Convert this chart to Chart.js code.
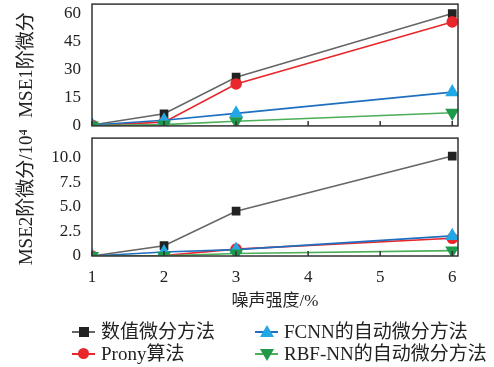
<!DOCTYPE html>
<html>
<head>
<meta charset="utf-8">
<script src="https://cdn.jsdelivr.net/npm/chart.js@4.4.1/dist/chart.umd.min.js"></script>
<style>
  body { margin: 0; background: #fff; width: 494px; height: 367px; overflow: hidden; position: relative; }
  .box { position: absolute; left: 0; width: 494px; }
  #top { top: -4px; height: 138px; }
  #bot { top: 130px; height: 186px; }
  .legend { position: absolute; font-family: "Liberation Serif", "Noto Sans CJK SC", serif; font-size: 19px; color: #222; white-space: nowrap; }
  .item { position: absolute; height: 22px; line-height: 22px; }
  .sw { position: absolute; left: 0; top: 10px; width: 23px; height: 2px; }
  .mk { position: absolute; }
  .lab { position: absolute; left: 29px; top: 0; }
</style>
</head>
<body>
<div class="box" id="top"><canvas id="c1"></canvas></div>
<div class="box" id="bot"><canvas id="c2"></canvas></div>
<div class="legend">
  <div class="item" style="left:72px;top:321px"><div class="sw" style="background:#666"></div><div class="mk" style="left:7px;top:6px;width:10px;height:10px;background:#222"></div><span class="lab">数值微分方法</span></div>
  <div class="item" style="left:72px;top:343px"><div class="sw" style="background:#e8262b"></div><div class="mk" style="left:6px;top:5px;width:11px;height:11px;border-radius:50%;background:#e8262b"></div><span class="lab">Prony算法</span></div>
  <div class="item" style="left:255px;top:321px"><div class="sw" style="background:#1f6fc0"></div><div class="mk" style="left:5px;top:4px;width:0;height:0;border-left:7px solid transparent;border-right:7px solid transparent;border-bottom:12px solid #22a7e6"></div><span class="lab">FCNN的自动微分方法</span></div>
  <div class="item" style="left:255px;top:343px"><div class="sw" style="background:#4cae58"></div><div class="mk" style="left:5px;top:6px;width:0;height:0;border-left:7px solid transparent;border-right:7px solid transparent;border-top:12px solid #1e9a4a"></div><span class="lab">RBF-NN的自动微分方法</span></div>
</div>
<script>
const noise = [1, 2, 3, 6];
const xTicks = [1, 2, 3, 4, 5, 6];

// MSE of first derivative
const mse1Numeric = [0.5, 6.5, 26, 60];
const mse1Prony = [0.3, 2, 22.4, 55.5];
const mse1Fcnn = [0.5, 3, 6.7, 18];
const mse1Rbf = [0.2, 0.7, 2.5, 7];

// MSE of second derivative, x10^4
const mse2Numeric = [0, 1.05, 4.56, 10.17];
const mse2Prony = [0, 0.05, 0.7, 1.8];
const mse2Fcnn = [0, 0.4, 0.65, 2.05];
const mse2Rbf = [0, 0.02, 0.25, 0.55];

const serif = '"Liberation Serif", "Noto Sans CJK SC", serif';

function series(vals, label, line, mark, style, order, rot) {
    return {
        label: label,
        data: noise.map((x, i) => ({ x: x, y: vals[i] })),
        borderColor: line,
        backgroundColor: mark,
        pointBorderColor: mark,
        pointBackgroundColor: mark,
        pointStyle: style,
        pointRotation: rot || 0,
        pointRadius: style === 'rect' ? 5 : (style === 'circle' ? 5 : 6.5),
        borderWidth: 1.6,
        order: order
    };
}

// frame + inward x ticks
const frame = {
    id: 'frame',
    afterDatasetsDraw(chart) {
        const a = chart.chartArea, c = chart.ctx, xs = chart.scales.x;
        c.save();
        c.strokeStyle = '#333';
        c.lineWidth = 1.5;
        c.strokeRect(a.left, a.top, a.right - a.left, a.bottom - a.top);
        c.beginPath();
        xTicks.forEach(v => {
            const px = xs.getPixelForValue(v);
            c.moveTo(px, a.bottom);
            c.lineTo(px, a.bottom - 5);
        });
        c.stroke();
        c.restore();
    }
};

function makeChart(id, sets, yMax, step, yTitle, fmt, showX, pad) {
    return new Chart(document.getElementById(id), {
        type: 'line',
        data: { datasets: sets },
        options: {
            responsive: true,
            maintainAspectRatio: false,
            animation: false,
            layout: { padding: pad },
            plugins: { legend: { display: false }, tooltip: { enabled: false } },
            scales: {
                x: {
                    type: 'linear', min: 1, max: 6.08,
                    display: showX,
                    grid: { display: false },
                    border: { display: false },
                    afterBuildTicks: s => { s.ticks = xTicks.map(v => ({ value: v })); },
                    afterFit: s => {
                        if (showX) s.height = 56;
                        s.paddingLeft = 0; s.paddingRight = 0;
                    },
                    ticks: { color: '#222', font: { family: serif, size: 17 }, padding: 3 },
                    title: { display: showX, text: '噪声强度/%', color: '#222', font: { family: serif, size: 17 }, padding: { top: 12, bottom: 0 } }
                },
                y: {
                    min: 0, max: yMax,
                    grid: { display: false },
                    border: { display: false },
                    afterBuildTicks: s => {
                        const t = [];
                        for (let v = 0; v <= yMax; v += step) t.push({ value: v });
                        s.ticks = t;
                    },
                    afterFit: s => { s.width = 92; s.paddingTop = 0; s.paddingBottom = 0; },
                    ticks: { color: '#222', font: { family: serif, size: 17 }, padding: 3, callback: fmt },
                    title: { display: true, text: yTitle, color: '#222', font: { family: serif, size: 19 }, padding: { top: 16, bottom: 0 } }
                }
            }
        },
        plugins: [frame]
    });
}

makeChart('c1', [
    series(mse1Numeric, '数值微分方法', '#666', '#222', 'rect', 4),
    series(mse1Prony, 'Prony算法', '#e8262b', '#e8262b', 'circle', 3),
    series(mse1Fcnn, 'FCNN的自动微分方法', '#1f6fc0', '#22a7e6', 'triangle', 2),
    series(mse1Rbf, 'RBF-NN的自动微分方法', '#4cae58', '#1e9a4a', 'triangle', 1, 180)
], 65, 15, 'MSE1阶微分', v => String(v), false, { top: 3, right: 36, bottom: 4, left: 0 });

makeChart('c2', [
    series(mse2Numeric, '数值微分方法', '#666', '#222', 'rect', 4),
    series(mse2Prony, 'Prony算法', '#e8262b', '#e8262b', 'circle', 3),
    series(mse2Fcnn, 'FCNN的自动微分方法', '#1f6fc0', '#22a7e6', 'triangle', 2),
    series(mse2Rbf, 'RBF-NN的自动微分方法', '#4cae58', '#1e9a4a', 'triangle', 1, 180)
], 12, 2.5, 'MSE2阶微分/10⁴', v => v === 0 ? '0' : v.toFixed(1), true, { top: 2, right: 36, bottom: 4, left: 0 });
</script>
</body>
</html>
